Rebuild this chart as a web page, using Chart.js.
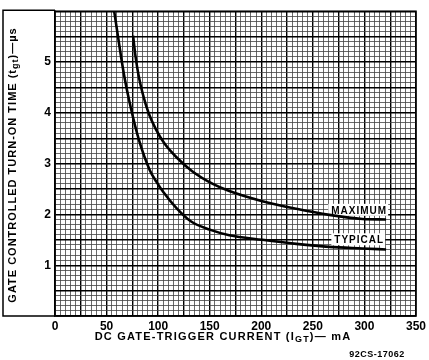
<!DOCTYPE html>
<html>
<head>
<meta charset="utf-8">
<script src="https://cdn.jsdelivr.net/npm/chart.js@4.4.1/dist/chart.umd.min.js"></script>
<style>
  html, body { margin: 0; padding: 0; background: #fff; }
  #wrap { width: 429px; height: 360px; }
</style>
</head>
<body>
<div id="wrap"><canvas id="turnOnChart" width="429" height="360"></canvas></div>
<script>
// gate current (mA) and turn-on time (us)
const typicalCurrent = [57.4, 61.9, 67, 73.5, 81.6, 91.9, 98.4, 105, 118, 132, 150, 169, 201, 234, 266, 298, 321];
const typicalTime = [6.0, 5.39, 4.74, 4.10, 3.45, 2.87, 2.64, 2.44, 2.12, 1.86, 1.70, 1.59, 1.50, 1.42, 1.36, 1.33, 1.31];
const maximumCurrent = [75.7, 78, 81, 85, 91, 98, 106, 118, 133, 153, 169, 201, 234, 266, 298, 321];
const maximumTime = [5.52, 5.12, 4.74, 4.38, 3.98, 3.67, 3.40, 3.12, 2.85, 2.60, 2.46, 2.26, 2.11, 1.99, 1.91, 1.90];

const xTickLabels = [0, 50, 100, 150, 200, 250, 300, 350];
const yTickLabels = [1, 2, 3, 4, 5];

const curveLabels = [
  { text: "MAXIMUM", x: 294, y: 2.09 },
  { text: "TYPICAL", x: 294, y: 1.51 },
];

const FONT = "'Liberation Sans', Arial, sans-serif";

function toPoints(xs, ys) {
  return xs.map((x, i) => ({ x: x, y: ys[i] }));
}

// draws text with a lowered subscript part, returns total width
function drawParts(ctx, parts, x, y, size, measureOnly) {
  let cx = x;
  parts.forEach((p) => {
    const s = p.sub ? size - 2 : size;
    ctx.font = "bold " + s + "px " + FONT;
    const w = ctx.measureText(p.t).width;
    if (!measureOnly) ctx.fillText(p.t, cx, y + (p.sub ? 3 : 0));
    cx += w;
  });
  return cx - x;
}

const decorations = {
  id: "decorations",
  beforeDatasetsDraw(chart) {
    // labels on curves with white patch behind, curves go over them
    const ctx = chart.ctx;
    const xs = chart.scales.x;
    const ys = chart.scales.y;
    ctx.save();
    ctx.font = "bold 10px " + FONT;
    ctx.letterSpacing = "1px";
    ctx.textAlign = "center";
    ctx.textBaseline = "middle";
    curveLabels.forEach((l) => {
      const px = xs.getPixelForValue(l.x);
      const py = ys.getPixelForValue(l.y);
      const w = ctx.measureText(l.text).width;
      ctx.fillStyle = "#fff";
      ctx.fillRect(px - w / 2 - 2, py - 6, w + 4, 12);
      ctx.fillStyle = "#000";
      ctx.fillText(l.text, px + 1, py + 1);
    });
    ctx.restore();
  },
  afterDatasetsDraw(chart) {
    const ctx = chart.ctx;
    const area = chart.chartArea;
    ctx.save();

    // box left of the plot holding the y title
    ctx.strokeStyle = "#000";
    ctx.lineWidth = 1.5;
    ctx.beginPath();
    ctx.moveTo(area.left, area.top - 1);
    ctx.lineTo(3, area.top - 1);
    ctx.lineTo(3, area.bottom);
    ctx.lineTo(area.left, area.bottom);
    ctx.stroke();
    ctx.strokeRect(area.left, area.top, area.right - area.left, area.bottom - area.top);

    ctx.fillStyle = "#000";
    ctx.textAlign = "left";
    ctx.textBaseline = "middle";
    ctx.letterSpacing = "1.2px";

    // x axis title
    const xParts = [
      { t: "DC GATE-TRIGGER CURRENT (I" },
      { t: "GT", sub: true },
      { t: ")— mA" },
    ];
    const xw = drawParts(ctx, xParts, 0, 0, 11, true);
    drawParts(ctx, xParts, 223 - xw / 2, 337, 11, false);

    // y axis title, rotated
    ctx.letterSpacing = "1px";
    const yParts = [
      { t: "GATE CONTROLLED TURN-ON TIME (t" },
      { t: "gt", sub: true },
      { t: ")—µs" },
    ];
    const yw = drawParts(ctx, yParts, 0, 0, 11, true);
    ctx.translate(13, 165);
    ctx.rotate(-Math.PI / 2);
    drawParts(ctx, yParts, -yw / 2, 0, 11, false);
    ctx.setTransform(1, 0, 0, 1, 0, 0);

    // drawing number
    ctx.font = "bold 9px " + FONT;
    ctx.letterSpacing = "0.5px";
    ctx.textAlign = "center";
    ctx.fillText("92CS-17062", 377, 355);
    ctx.restore();
  },
};

new Chart(document.getElementById("turnOnChart"), {
  type: "line",
  data: {
    datasets: [
      {
        label: "Maximum",
        data: toPoints(maximumCurrent, maximumTime),
        borderColor: "#000",
        borderWidth: 2.6,
        pointRadius: 0,
        cubicInterpolationMode: "monotone",
        fill: false,
      },
      {
        label: "Typical",
        data: toPoints(typicalCurrent, typicalTime),
        borderColor: "#000",
        borderWidth: 2.6,
        pointRadius: 0,
        cubicInterpolationMode: "monotone",
        fill: false,
      },
    ],
  },
  options: {
    responsive: false,
    animation: false,
    layout: { padding: { left: 0, top: 7, right: 12, bottom: 0 } },
    plugins: {
      legend: { display: false },
      tooltip: { enabled: false },
    },
    scales: {
      x: {
        type: "linear",
        min: 0,
        max: 350,
        afterFit: (scale) => { scale.height = 44; },
        ticks: {
          stepSize: 5,
          autoSkip: false,
          maxRotation: 0,
          padding: 3,
          color: "#000",
          font: { family: FONT, size: 12, weight: "bold" },
          callback: (v) => (xTickLabels.includes(Math.round(v)) && Math.abs(v - Math.round(v)) < 1e-6 ? String(Math.round(v)) : ""),
        },
        grid: {
          drawTicks: false,
          color: (c) => (Math.round(c.tick.value) % 25 === 0 ? "#000" : "#444"),
          lineWidth: (c) => (Math.round(c.tick.value) % 25 === 0 ? 1.4 : 0.8),
        },
        border: { display: true, color: "#000", width: 1.5 },
      },
      y: {
        type: "linear",
        min: 0,
        max: 6,
        afterFit: (scale) => { scale.width = 55; },
        ticks: {
          stepSize: 0.1,
          autoSkip: false,
          padding: 4,
          color: "#000",
          font: { family: FONT, size: 12, weight: "bold" },
          callback: (v) => {
            const r = Math.round(v);
            return Math.abs(v - r) < 1e-6 && yTickLabels.includes(r) ? String(r) : "";
          },
        },
        grid: {
          drawTicks: false,
          color: (c) => (Math.round(c.tick.value * 10) % 5 === 0 ? "#000" : "#444"),
          lineWidth: (c) => (Math.round(c.tick.value * 10) % 5 === 0 ? 1.4 : 0.8),
        },
        border: { display: true, color: "#000", width: 1.5 },
      },
    },
  },
  plugins: [decorations],
});
</script>
</body>
</html>
